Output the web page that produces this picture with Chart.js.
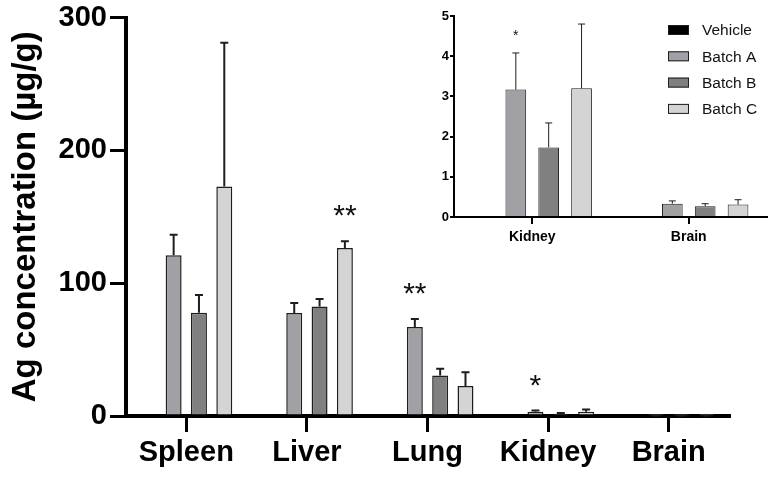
<!DOCTYPE html>
<html>
<head>
<meta charset="utf-8">
<script src="https://cdn.jsdelivr.net/npm/chart.js@4.4.1/dist/chart.umd.min.js"></script>
<style>
  html, body { margin: 0; padding: 0; background: #fff; }
  #wrap { position: relative; width: 768px; height: 477px; }
  #mainChart { position: absolute; left: 0; top: 0; }
  #insetChart { position: absolute; left: 420px; top: 0; }
</style>
</head>
<body>
<div id="wrap">
  <canvas id="mainChart" width="768" height="477"></canvas>
  <canvas id="insetChart" width="348" height="250"></canvas>
</div>
<script>
/* ------------------- DATA ------------------- */
const CATEGORIES = ["Spleen", "Liver", "Lung", "Kidney", "Brain"];
const SERIES = ["Vehicle", "Batch A", "Batch B", "Batch C"];

const vehicle   = [0, 0, 0, 0, 0];
const vehicleErr = [0, 0, 0, 0, 0];
const batchA    = [121, 77.5, 67, 3.17, 0.33];
const batchAErr = [15.5, 7.5, 6, 0.91, 0.07];
const batchB    = [77.7, 82.5, 30.5, 1.73, 0.27];
const batchBErr = [13.3, 5.5, 5, 0.61, 0.06];
const batchC    = [172.7, 126.5, 22.5, 3.2, 0.31];
const batchCErr = [108.3, 5, 10.5, 1.6, 0.12];

// significance marks per series
const vehicleSig = ["", "", "", "", ""];
const batchASig  = ["", "", "**", "*", ""];
const batchBSig  = ["", "", "", "", ""];
const batchCSig  = ["", "**", "", "", ""];

const MAIN_TICKS = [0, 100, 200, 300];
const INSET_CATS = ["Kidney", "Brain"];
const INSET_TICKS = [0, 1, 2, 3, 4, 5];

const COLORS = ["#000000", "#a1a1a5", "#808080", "#d4d4d4"];
const BORDER = "#1e1e1e";

/* ------------------- Plugins ------------------- */
const errorBars = {
  id: "errorBars",
  afterDatasetsDraw(chart, args, opts) {
    const ctx = chart.ctx;
    const yScale = chart.scales.y;
    chart.data.datasets.forEach((ds, di) => {
      const meta = chart.getDatasetMeta(di);
      meta.data.forEach((bar, i) => {
        const e = ds.err[i];
        const v = ds.data[i];
        if (e) {
          const top = yScale.getPixelForValue(v + e);
          ctx.save();
          ctx.strokeStyle = BORDER;
          ctx.lineWidth = opts.width;
          ctx.beginPath();
          ctx.moveTo(bar.x, bar.y);
          ctx.lineTo(bar.x, top);
          ctx.moveTo(bar.x - opts.cap / 2, top);
          ctx.lineTo(bar.x + opts.cap / 2, top);
          ctx.stroke();
          ctx.restore();
        }
        const s = ds.sig[i];
        if (s) {
          const top = yScale.getPixelForValue(v + (e || 0));
          ctx.save();
          ctx.fillStyle = "#111";
          ctx.font = opts.sigFont;
          ctx.textAlign = "center";
          ctx.textBaseline = "alphabetic";
          ctx.fillText(s, bar.x, top - opts.sigOffset);
          ctx.restore();
        }
      });
    });
  }
};

const insetLegend = {
  id: "insetLegend",
  afterDraw(chart, args, opts) {
    const ctx = chart.ctx;
    ctx.save();
    chart.data.datasets.forEach((ds, i) => {
      const y = opts.y + i * opts.step;
      ctx.fillStyle = ds.backgroundColor;
      ctx.fillRect(opts.x, y - 5, 21, 10);
      ctx.strokeStyle = BORDER;
      ctx.lineWidth = 1;
      ctx.strokeRect(opts.x + 0.5, y - 4.5, 20, 9);
      ctx.fillStyle = "#111";
      ctx.font = "15.5px 'Liberation Sans', Arial, sans-serif";
      ctx.textBaseline = "middle";
      ctx.fillText(ds.label, opts.x + 34, y + 1);
    });
    ctx.restore();
  }
};

function buildDatasets(from, borderWidth) {
  const vals = [vehicle, batchA, batchB, batchC];
  const errs = [vehicleErr, batchAErr, batchBErr, batchCErr];
  const sigs = [vehicleSig, batchASig, batchBSig, batchCSig];
  return SERIES.map((name, i) => ({
    label: name,
    data: vals[i].slice(from),
    err: errs[i].slice(from),
    sig: sigs[i].slice(from),
    backgroundColor: COLORS[i],
    borderColor: BORDER,
    borderWidth: borderWidth,
    categoryPercentage: 0.84,
    barPercentage: 0.63
  }));
}

const FONT = "'Liberation Sans', Arial, sans-serif";

/* ------------------- Main chart ------------------- */
new Chart(document.getElementById("mainChart"), {
  type: "bar",
  data: { labels: CATEGORIES, datasets: buildDatasets(0, 1.5) },
  options: {
    responsive: false,
    animation: false,
    layout: { padding: { top: 16, right: 39, left: 0, bottom: 0 } },
    plugins: {
      legend: { display: false },
      tooltip: { enabled: false },
      errorBars: { width: 2, cap: 8, sigFont: "30px " + FONT, sigOffset: 16 }
    },
    scales: {
      y: {
        min: 0, max: 300,
        afterBuildTicks: s => { s.ticks = MAIN_TICKS.map(v => ({ value: v })); },
        afterFit: s => { s.width = 126; },
        ticks: { color: "#000", padding: 3, font: { family: FONT, size: 29, weight: "bold", lineHeight: 1 } },
        grid: { drawOnChartArea: false, tickLength: 16, color: "#000", lineWidth: 3 },
        border: { color: "#000", width: 4 },
        title: {
          display: true, text: "Ag concentration (µg/g)", color: "#000",
          font: { family: FONT, size: 33, weight: "bold" }, padding: { top: 6, bottom: 4 }
        }
      },
      x: {
        afterFit: s => { s.height = 61; },
        ticks: { color: "#000", padding: 4, font: { family: FONT, size: 29, weight: "bold" } },
        grid: { drawOnChartArea: false, offset: false, tickLength: 16, color: "#000", lineWidth: 3 },
        border: { color: "#000", width: 4 }
      }
    }
  },
  plugins: [errorBars]
});

/* ------------------- Inset chart ------------------- */
new Chart(document.getElementById("insetChart"), {
  type: "bar",
  data: { labels: INSET_CATS, datasets: buildDatasets(3, 1) },
  options: {
    responsive: false,
    animation: false,
    layout: { padding: { top: 16, right: 1, left: 0, bottom: 0 } },
    plugins: {
      legend: { display: false },
      tooltip: { enabled: false },
      errorBars: { width: 1, cap: 7, sigFont: "14px " + FONT, sigOffset: 13 },
      insetLegend: { x: 248, y: 30, step: 26.3 }
    },
    scales: {
      y: {
        min: 0, max: 5,
        afterBuildTicks: s => { s.ticks = INSET_TICKS.map(v => ({ value: v })); },
        afterFit: s => { s.width = 34; },
        ticks: { color: "#000", padding: 1, font: { family: FONT, size: 13, weight: "bold" } },
        grid: { drawOnChartArea: false, tickLength: 4, color: "#000", lineWidth: 2 },
        border: { color: "#000", width: 2 }
      },
      x: {
        afterFit: s => { s.height = 33; },
        ticks: { color: "#000", padding: 5, font: { family: FONT, size: 14, weight: "bold" } },
        grid: { drawOnChartArea: false, offset: false, tickLength: 7, color: "#000", lineWidth: 2 },
        border: { color: "#000", width: 2 }
      }
    }
  },
  plugins: [errorBars, insetLegend]
});
</script>
</body>
</html>
